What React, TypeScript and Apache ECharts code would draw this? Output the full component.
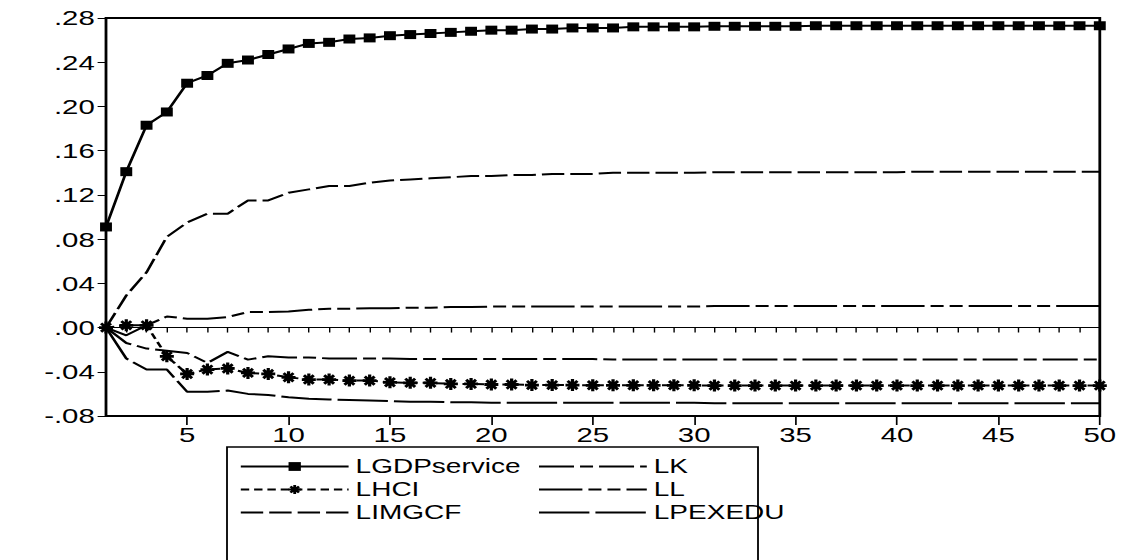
import React, { useEffect, useRef } from "react";
import * as echarts from "echarts";

const periods = Array.from({ length: 50 }, (_, i) => String(i + 1));

const LGDPservice = [
  0.091, 0.141, 0.183, 0.195, 0.221, 0.228, 0.239, 0.242, 0.247, 0.252,
  0.257, 0.258, 0.261, 0.262, 0.264, 0.265, 0.266, 0.267, 0.268, 0.269,
  0.269, 0.270, 0.270, 0.271, 0.271, 0.271, 0.272, 0.272, 0.272, 0.272,
  0.2725, 0.2725, 0.2725, 0.2725, 0.2725, 0.273, 0.273, 0.273, 0.273, 0.273,
  0.273, 0.273, 0.273, 0.273, 0.273, 0.273, 0.273, 0.273, 0.273, 0.273,
];
const LHCI = [
  0, 0.002, 0.002, -0.026, -0.042, -0.038, -0.037, -0.041, -0.042, -0.045,
  -0.047, -0.047, -0.048, -0.048, -0.0495, -0.05, -0.05, -0.051, -0.051, -0.0515,
  -0.0515, -0.052, -0.052, -0.052, -0.0522, -0.0522, -0.0522, -0.0522, -0.0522, -0.0522,
  -0.0525, -0.0525, -0.0525, -0.0525, -0.0525, -0.0525, -0.0525, -0.0525, -0.0525, -0.0525,
  -0.0525, -0.0525, -0.0525, -0.0525, -0.0525, -0.0525, -0.0525, -0.0525, -0.0525, -0.0525,
];
const LIMGCF = [
  0, 0.029, 0.05, 0.082, 0.095, 0.103, 0.103, 0.115, 0.115, 0.122,
  0.125, 0.128, 0.128, 0.131, 0.133, 0.134, 0.135, 0.136, 0.137, 0.137,
  0.138, 0.138, 0.139, 0.139, 0.139, 0.14, 0.14, 0.14, 0.14, 0.14,
  0.1405, 0.1405, 0.1405, 0.1405, 0.1405, 0.1405, 0.1405, 0.1405, 0.1405, 0.1405,
  0.141, 0.141, 0.141, 0.141, 0.141, 0.141, 0.141, 0.141, 0.141, 0.141,
];
const LK = [
  0, -0.014, -0.019, -0.021, -0.023, -0.032, -0.022, -0.029, -0.026, -0.027,
  -0.027, -0.028, -0.028, -0.028, -0.028, -0.0285, -0.0285, -0.0285, -0.0285, -0.0285,
  -0.0285, -0.0285, -0.0285, -0.0285, -0.0285, -0.029, -0.029, -0.029, -0.029, -0.029,
  -0.029, -0.029, -0.029, -0.029, -0.029, -0.029, -0.029, -0.029, -0.029, -0.029,
  -0.029, -0.029, -0.029, -0.029, -0.029, -0.029, -0.029, -0.029, -0.029, -0.029,
];
const LL = [
  0, -0.007, 0.002, 0.01, 0.008, 0.008, 0.0095, 0.014, 0.014, 0.0145,
  0.016, 0.017, 0.017, 0.0175, 0.0175, 0.018, 0.018, 0.0185, 0.0185, 0.019,
  0.019, 0.019, 0.019, 0.019, 0.019, 0.019, 0.019, 0.019, 0.019, 0.019,
  0.0195, 0.0195, 0.0195, 0.0195, 0.0195, 0.0195, 0.0195, 0.0195, 0.0195, 0.0195,
  0.0195, 0.0195, 0.0195, 0.0195, 0.0195, 0.0195, 0.0195, 0.0195, 0.0195, 0.0195,
];
const LPEXEDU = [
  0, -0.028, -0.038, -0.038, -0.058, -0.058, -0.057, -0.06, -0.061, -0.063,
  -0.0645, -0.065, -0.0655, -0.066, -0.0665, -0.067, -0.067, -0.0675, -0.0675, -0.068,
  -0.068, -0.068, -0.068, -0.068, -0.068, -0.068, -0.068, -0.068, -0.068, -0.068,
  -0.0685, -0.0685, -0.0685, -0.0685, -0.0685, -0.0685, -0.0685, -0.0685, -0.0685, -0.0685,
  -0.0685, -0.0685, -0.0685, -0.0685, -0.0685, -0.0685, -0.0685, -0.0685, -0.0685, -0.0685,
];

const legendCol1 = ["LGDPservice", "LHCI", "LIMGCF"];
const legendCol2 = ["LK", "LL", "LPEXEDU"];
const noSymbolSeries = ["LIMGCF", "LK", "LL", "LPEXEDU"];

const FONT = "Liberation Sans";
// The reference graph is stretched horizontally; draw narrower, then stretch.
const SX = 1.4;
const W = 1123 / SX;
const H = 560;

const STAR =
  "path://M-1.5,-6.5L1.5,-6.5L1.5,6.5L-1.5,6.5Z" +
  "M-6.5,-1.5L6.5,-1.5L6.5,1.5L-6.5,1.5Z" +
  "M-3.5,-5.6L5.6,3.5L3.5,5.6L-5.6,-3.5Z" +
  "M-5.6,3.5L3.5,-5.6L5.6,-3.5L-3.5,5.6Z";

export default function App() {
  const ref = useRef<HTMLDivElement>(null);

  useEffect(() => {
    if (!ref.current) return;
    const chart = echarts.init(ref.current, undefined, { renderer: "svg" });

    const lineSeries = (
      name: string,
      data: number[],
      dash: any,
      symbol: any = "none",
      symbolSize: any = 0
    ) => ({
      name,
      type: "line",
      data,
      symbol,
      symbolSize,
      showSymbol: symbol !== "none",
      showAllSymbol: true,
      xAxisIndex: 0,
      yAxisIndex: 0,
      lineStyle: { color: "#000", width: 2, type: dash },
      itemStyle: { color: "#000", borderWidth: 0 },
      z: 3,
    });

    const fmtY = (v: number) => v.toFixed(2).replace(/^(-?)0\./, "$1.");
    const legendItems = (names: string[]) =>
      names.map((n) =>
        noSymbolSeries.includes(n) ? { name: n, itemStyle: { opacity: 0 } } : { name: n }
      );
    const legendBase = {
      orient: "vertical",
      top: 455,
      itemWidth: 77,
      itemHeight: 11,
      itemGap: 0,
      padding: 0,
      selectedMode: false,
      textStyle: { color: "#000", fontFamily: FONT, fontSize: 20, lineHeight: 23 },
    };

    chart.setOption({
      animation: false,
      backgroundColor: "#fff",
      grid: {
        left: 106 / SX,
        right: 23 / SX,
        top: 18,
        bottom: 144,
        show: true,
        borderColor: "#000",
        borderWidth: 2,
        backgroundColor: "transparent",
      },
      xAxis: [
        {
          type: "category",
          data: periods,
          boundaryGap: false,
          position: "bottom",
          axisLine: { show: false },
          axisTick: {
            show: true,
            interval: 0,
            length: 5,
            lineStyle: { color: "#000", width: 1 },
          },
          axisLabel: { show: false },
          splitLine: { show: false },
        },
        {
          type: "category",
          data: periods,
          boundaryGap: false,
          position: "bottom",
          axisLine: { show: false },
          axisTick: {
            show: true,
            interval: (i: number) => (i + 1) % 5 === 0,
            length: 9,
            lineStyle: { color: "#000", width: 1.2 },
          },
          axisLabel: {
            show: true,
            interval: (i: number) => (i + 1) % 5 === 0,
            margin: 8,
            color: "#000",
            fontFamily: FONT,
            fontSize: 21,
          },
          splitLine: { show: false },
        },
      ],
      yAxis: {
        type: "value",
        min: -0.08,
        max: 0.28,
        interval: 0.04,
        axisLine: { show: false },
        axisTick: {
          show: true,
          length: 6,
          lineStyle: { color: "#000", width: 1 },
        },
        axisLabel: {
          formatter: fmtY,
          margin: 8,
          color: "#000",
          fontFamily: FONT,
          fontSize: 21,
        },
        splitLine: { show: false },
      },
      legend: [
        { ...legendBase, data: legendItems(legendCol1), left: 171 },
        { ...legendBase, data: legendItems(legendCol2), left: 384 },
      ],
      graphic: [
        {
          type: "rect",
          shape: { x: 227 / SX, y: 447, width: 531 / SX, height: 200 },
          style: { fill: "none", stroke: "#000", lineWidth: 1.3 },
          silent: true,
        },
      ],
      series: [
        {
          ...lineSeries("LGDPservice", LGDPservice, "solid", "rect", [8.5, 9]),
          markLine: {
            silent: true,
            symbol: "none",
            label: { show: false },
            lineStyle: { color: "#000", width: 1, type: "solid" },
            data: [{ yAxis: 0 }],
          },
        },
        lineSeries("LHCI", LHCI, [6, 3.5], STAR, [10, 12]),
        lineSeries("LIMGCF", LIMGCF, [16, 4.3]),
        lineSeries("LK", LK, [25, 4.3, 9.3, 4.3]),
        lineSeries("LL", LL, [31, 4.3, 9.3, 4.3, 9.3, 4.3]),
        lineSeries("LPEXEDU", LPEXEDU, [36, 4.3]),
      ],
    });

    return () => chart.dispose();
  }, []);

  return (
    <div
      ref={ref}
      style={{
        position: "fixed",
        left: 0,
        top: 0,
        width: W,
        height: H,
        background: "#fff",
        transform: `scaleX(${SX})`,
        transformOrigin: "0 0",
      }}
    />
  );
}
